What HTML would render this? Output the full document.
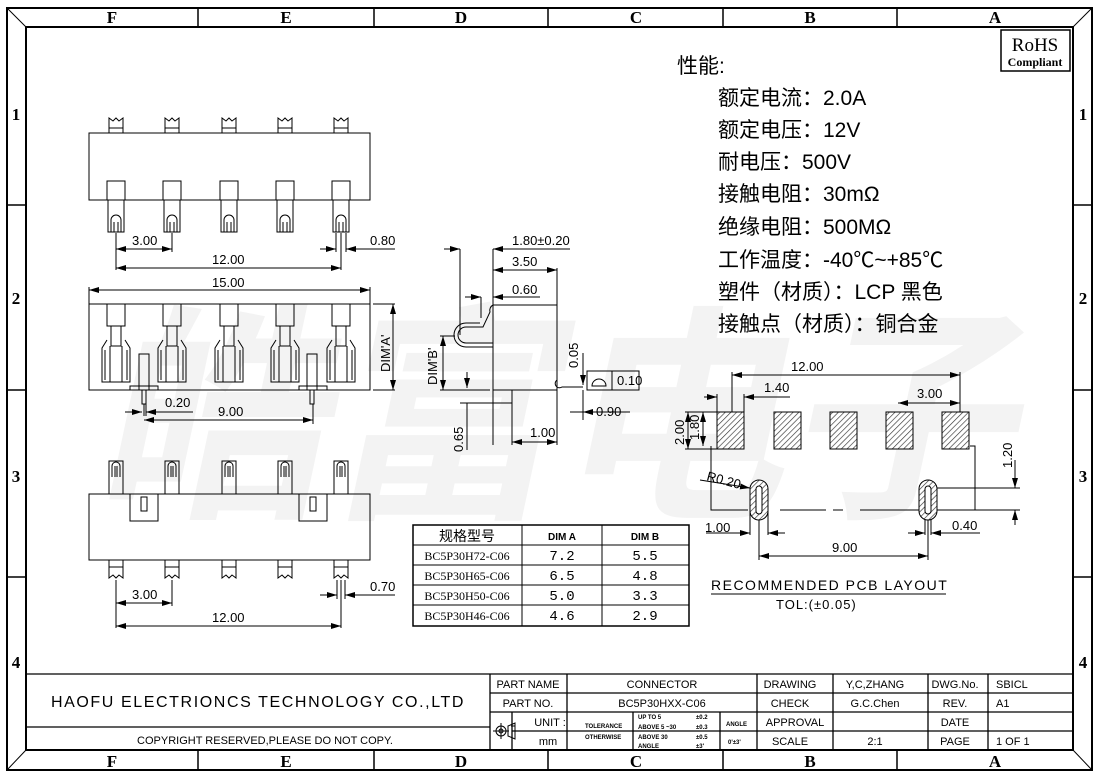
<!DOCTYPE html>
<html><head><meta charset="utf-8"><style>
html,body{margin:0;padding:0;background:#fff}
svg{display:block;font-family:"Liberation Sans","Noto Sans CJK SC",sans-serif}
text{fill:#000}
.d{font-size:13px}
.b{font-family:"Liberation Serif",serif;font-weight:bold;font-size:17px}
.t{font-size:11px}
</style></head><body>
<svg width="1098" height="779" viewBox="0 0 1098 779" xmlns="http://www.w3.org/2000/svg">
<defs>
<marker id="a" viewBox="0 0 10 6" refX="10" refY="3" markerWidth="10" markerHeight="6" orient="auto-start-reverse" markerUnits="userSpaceOnUse"><path d="M0,0L10,3L0,6z" fill="#000"/></marker>
<pattern id="h" width="4" height="4" patternUnits="userSpaceOnUse" patternTransform="rotate(45)"><rect width="4" height="4" fill="#fff"/><line x1="0" y1="0" x2="0" y2="4" stroke="#333" stroke-width="1.3"/></pattern>
</defs>
<!-- watermark -->
<g transform="skewX(-12)">
<text x="200" y="500" style="fill:#f3f3f3;font-family:'Noto Sans CJK SC',sans-serif;font-size:230px;font-weight:bold">皓富电子</text>
</g>
<!-- frame -->
<g fill="none" stroke="#000">
<rect x="7" y="8" width="1085" height="762" stroke-width="2"/>
<rect x="26" y="27" width="1047" height="723" stroke-width="2"/>
<line x1="7" y1="8" x2="26" y2="27"/><line x1="1092" y1="8" x2="1073" y2="27"/>
<line x1="7" y1="770" x2="26" y2="750"/><line x1="1092" y1="770" x2="1073" y2="750"/>
<g stroke-width="1.5">
<line x1="198" y1="8" x2="198" y2="27"/><line x1="374" y1="8" x2="374" y2="27"/><line x1="548" y1="8" x2="548" y2="27"/><line x1="723" y1="8" x2="723" y2="27"/><line x1="897" y1="8" x2="897" y2="27"/>
<line x1="198" y1="750" x2="198" y2="770"/><line x1="374" y1="750" x2="374" y2="770"/><line x1="548" y1="750" x2="548" y2="770"/><line x1="723" y1="750" x2="723" y2="770"/><line x1="897" y1="750" x2="897" y2="770"/>
<line x1="7" y1="205" x2="26" y2="205"/><line x1="7" y1="390" x2="26" y2="390"/><line x1="7" y1="577" x2="26" y2="577"/>
<line x1="1073" y1="205" x2="1092" y2="205"/><line x1="1073" y1="390" x2="1092" y2="390"/><line x1="1073" y1="577" x2="1092" y2="577"/>
</g></g>
<g class="b" text-anchor="middle">
<text x="112" y="23">F</text><text x="286" y="23">E</text><text x="461" y="23">D</text><text x="636" y="23">C</text><text x="810" y="23">B</text><text x="995" y="23">A</text>
<text x="112" y="767">F</text><text x="286" y="767">E</text><text x="461" y="767">D</text><text x="636" y="767">C</text><text x="810" y="767">B</text><text x="995" y="767">A</text>
<text x="16" y="120">1</text><text x="16" y="304">2</text><text x="16" y="482">3</text><text x="16" y="668">4</text>
<text x="1083" y="120">1</text><text x="1083" y="304">2</text><text x="1083" y="482">3</text><text x="1083" y="668">4</text>
</g>
<!-- RoHS -->
<rect x="1001" y="30" width="69" height="41" fill="#fff" stroke="#000" stroke-width="1.5"/>
<text x="1035" y="51" text-anchor="middle" style="font-family:'Liberation Serif',serif;font-size:19px">RoHS</text>
<text x="1035" y="66" text-anchor="middle" style="font-family:'Liberation Serif',serif;font-size:12px;font-weight:bold">Compliant</text>
<!-- spec text -->
<g style="font-size:21px">
<text x="677" y="73">性能:</text>
<text x="718" y="105">额定电流：2.0A</text>
<text x="718" y="137">额定电压：12V</text>
<text x="718" y="169">耐电压：500V</text>
<text x="718" y="201">接触电阻：30mΩ</text>
<text x="718" y="234">绝缘电阻：500MΩ</text>
<text x="718" y="267">工作温度：-40℃~+85℃</text>
<text x="718" y="299">塑件（材质）：LCP 黑色</text>
<text x="718" y="331">接触点（材质）：铜合金</text>
</g>
<g fill="none" stroke="#000" stroke-width="1">
<!-- TOP VIEW -->
<rect x="89" y="133" width="281" height="67"/>
<g id="tp">
<path d="M109,133 V118 L113,121 L116,118 L119,121 L123,118 V133 M109,128 H123"/>
<rect x="107" y="181" width="18" height="19"/>
<path d="M108,200 V232 H124 V200 M111,232 V220 a5,5 0 0 1 10,0 V232 M114,232 V222 M118,232 V222"/>
</g>
<use href="#tp" x="56"/><use href="#tp" x="113"/><use href="#tp" x="169"/><use href="#tp" x="225"/>
<line x1="116" y1="233" x2="116" y2="270"/><line x1="172" y1="233" x2="172" y2="252"/><line x1="341" y1="233" x2="341" y2="270"/><line x1="336" y1="233" x2="336" y2="252"/><line x1="346" y1="233" x2="346" y2="252"/>
<line x1="116" y1="249" x2="172" y2="249" marker-start="url(#a)" marker-end="url(#a)"/>
<line x1="116" y1="268" x2="341" y2="268" marker-start="url(#a)" marker-end="url(#a)"/>
<line x1="320" y1="249" x2="336" y2="249" marker-end="url(#a)"/><line x1="395" y1="249" x2="346" y2="249" marker-end="url(#a)"/>
<!-- FRONT VIEW -->
<line x1="89" y1="290" x2="370" y2="290" marker-start="url(#a)" marker-end="url(#a)"/>
<line x1="89" y1="287" x2="89" y2="304"/><line x1="370" y1="287" x2="370" y2="304"/>
<rect x="89" y="304" width="281" height="86"/>
<g id="fp">
<rect x="107" y="304" width="18" height="22"/>
<rect x="111" y="326" width="10" height="20"/>
<path d="M107,340 L102,348 V382 H130 V348 L125,340 M105,350 V380 M127,350 V380 M110,346 V382 M122,346 V382"/>
</g>
<use href="#fp" x="56"/><use href="#fp" x="113"/><use href="#fp" x="169"/><use href="#fp" x="225"/>
<rect x="139" y="354" width="10" height="36"/><rect x="142" y="390" width="4" height="14"/>
<rect x="307" y="354" width="10" height="36"/><rect x="310" y="390" width="4" height="14"/>
<path d="M130,390 V386 H158 V390 M299,390 V386 H327 V390"/>
<line x1="144" y1="404" x2="144" y2="416"/><line x1="146" y1="404" x2="146" y2="416"/><line x1="313" y1="404" x2="313" y2="424"/>
<line x1="125" y1="412" x2="142" y2="412" marker-end="url(#a)"/><line x1="193" y1="412" x2="146" y2="412" marker-end="url(#a)"/>
<line x1="144" y1="420" x2="313" y2="420" marker-start="url(#a)" marker-end="url(#a)"/>
<line x1="373" y1="304" x2="395" y2="304"/><line x1="373" y1="390" x2="395" y2="390"/>
<line x1="393" y1="304" x2="393" y2="390" marker-start="url(#a)" marker-end="url(#a)"/>
<!-- BOTTOM VIEW -->
<rect x="89" y="494" width="281" height="66"/>
<g id="bp">
<rect x="109" y="461" width="14" height="33"/>
<path d="M112,477 V466 a4,4 0 0 1 8,0 V477 M115,466 V477 M117,466 V477"/>
<path d="M109,560 V578 L113,575 L116,578 L119,575 L123,578 V560 M109,567 H123"/>
</g>
<use href="#bp" x="56"/><use href="#bp" x="113"/><use href="#bp" x="169"/><use href="#bp" x="225"/>
<rect x="130" y="494" width="28" height="27"/><rect x="141" y="497" width="6" height="14"/>
<rect x="299" y="494" width="28" height="27"/><rect x="310" y="497" width="6" height="14"/>
<line x1="116" y1="580" x2="116" y2="628"/><line x1="172" y1="580" x2="172" y2="606"/><line x1="341" y1="580" x2="341" y2="628"/><line x1="337" y1="580" x2="337" y2="599"/><line x1="345" y1="580" x2="345" y2="599"/>
<line x1="116" y1="603" x2="172" y2="603" marker-start="url(#a)" marker-end="url(#a)"/>
<line x1="116" y1="626" x2="341" y2="626" marker-start="url(#a)" marker-end="url(#a)"/>
<line x1="320" y1="595" x2="337" y2="595" marker-end="url(#a)"/><line x1="395" y1="595" x2="345" y2="595" marker-end="url(#a)"/>
<!-- SIDE VIEW -->
<rect x="493" y="305" width="64" height="85"/>
<rect x="493" y="390" width="19" height="13"/>
<path d="M493,343 H466 a8,8 0 0 1 0,-16 H483 L490,312 a6,6 0 0 1 3,-7"/>
<path d="M493,347 H466 a12,12 0 0 1 0,-24 H480" />
<path d="M557,380 a4,4 0 0 0 5,7 H583"/>
<line x1="460" y1="249" x2="460" y2="335"/><line x1="493" y1="249" x2="493" y2="305"/><line x1="557" y1="268" x2="557" y2="305"/>
<line x1="444" y1="249" x2="460" y2="249" marker-end="url(#a)"/><line x1="570" y1="249" x2="493" y2="249" marker-end="url(#a)"/>
<line x1="493" y1="270" x2="557" y2="270" marker-start="url(#a)" marker-end="url(#a)"/>
<line x1="465" y1="297" x2="481" y2="297" marker-end="url(#a)"/><line x1="540" y1="297" x2="493" y2="297" marker-end="url(#a)"/>
<line x1="481" y1="297" x2="481" y2="318"/>
<line x1="440" y1="336" x2="455" y2="336"/><line x1="440" y1="390" x2="490" y2="390"/>
<line x1="443" y1="336" x2="443" y2="390" marker-start="url(#a)" marker-end="url(#a)"/>
<line x1="467" y1="372" x2="467" y2="388" marker-end="url(#a)"/>
<line x1="467" y1="403" x2="467" y2="450"/><line x1="460" y1="403" x2="493" y2="403"/>
<line x1="493" y1="403" x2="493" y2="445"/><line x1="512" y1="403" x2="512" y2="445"/><line x1="557" y1="390" x2="557" y2="445"/>
<line x1="540" y1="442" x2="557" y2="442" marker-end="url(#a)"/><line x1="512" y1="442" x2="557" y2="442" marker-start="url(#a)"/>
<line x1="583" y1="390" x2="583" y2="420"/>
<line x1="583" y1="412" x2="630" y2="412" marker-start="url(#a)"/><line x1="570" y1="412" x2="583" y2="412"/>
<line x1="583" y1="353" x2="583" y2="385" marker-end="url(#a)"/><line x1="583" y1="412" x2="583" y2="393"/>
<rect x="587" y="371" width="25" height="19"/><rect x="612" y="371" width="27" height="19"/>
<path d="M592,386 a7,7 0 0 1 14,0 z"/>
<!-- spec table -->
<rect x="413" y="525" width="276" height="101" stroke-width="1.5"/>
<line x1="413" y1="545" x2="689" y2="545"/><line x1="413" y1="565" x2="689" y2="565"/><line x1="413" y1="585" x2="689" y2="585"/><line x1="413" y1="605" x2="689" y2="605"/>
<line x1="522" y1="525" x2="522" y2="626"/><line x1="602" y1="525" x2="602" y2="626"/>
<!-- PCB -->
<line x1="732" y1="375" x2="960" y2="375" marker-start="url(#a)" marker-end="url(#a)"/>
<line x1="732" y1="372" x2="732" y2="412"/><line x1="960" y1="372" x2="960" y2="412"/>
<line x1="704" y1="397" x2="717" y2="397" marker-end="url(#a)"/><line x1="790" y1="397" x2="744" y2="397" marker-end="url(#a)"/>
<line x1="717" y1="394" x2="717" y2="412"/><line x1="744" y1="394" x2="744" y2="412"/>
<line x1="898" y1="403" x2="960" y2="403" marker-start="url(#a)" marker-end="url(#a)"/>
<line x1="685" y1="412" x2="717" y2="412"/><line x1="685" y1="449" x2="717" y2="449"/>
<line x1="688" y1="412" x2="688" y2="449" marker-start="url(#a)" marker-end="url(#a)"/>
<line x1="703" y1="412" x2="703" y2="446" marker-start="url(#a)" marker-end="url(#a)"/>
<path d="M711,446 V510 H748 M780,510 H826 M833,510 H843 M860,510 H920 M935,510 H975 V446 H970"/>
<rect x="717" y="412" width="27" height="37" fill="url(#h)"/>
<rect x="774" y="412" width="27" height="37" fill="url(#h)"/>
<rect x="830" y="412" width="27" height="37" fill="url(#h)"/>
<rect x="886" y="412" width="27" height="37" fill="url(#h)"/>
<rect x="942" y="412" width="27" height="37" fill="url(#h)"/>
<rect x="750" y="480" width="18" height="40" rx="9" fill="url(#h)"/><rect x="756" y="486" width="6" height="28" rx="3" fill="#fff"/>
<rect x="919" y="480" width="18" height="40" rx="9" fill="url(#h)"/><rect x="925" y="486" width="6" height="28" rx="3" fill="#fff"/>
<line x1="700" y1="480" x2="750" y2="488" marker-end="url(#a)"/>
<line x1="937" y1="488" x2="1020" y2="488"/>
<line x1="1015" y1="460" x2="1015" y2="488" marker-end="url(#a)"/><line x1="1015" y1="525" x2="1015" y2="510" marker-end="url(#a)"/><line x1="975" y1="510" x2="1020" y2="510"/>
<line x1="750" y1="500" x2="750" y2="535"/><line x1="768" y1="500" x2="768" y2="535"/>
<line x1="706" y1="533" x2="750" y2="533" marker-end="url(#a)"/><line x1="785" y1="533" x2="768" y2="533" marker-end="url(#a)"/>
<line x1="759" y1="520" x2="759" y2="560"/><line x1="928" y1="520" x2="928" y2="560"/>
<line x1="925" y1="520" x2="925" y2="535"/><line x1="931" y1="520" x2="931" y2="535"/>
<line x1="908" y1="533" x2="925" y2="533" marker-end="url(#a)"/><line x1="980" y1="533" x2="931" y2="533" marker-end="url(#a)"/>
<line x1="759" y1="556" x2="928" y2="556" marker-start="url(#a)" marker-end="url(#a)"/>
<line x1="711" y1="594" x2="946" y2="594"/>
<!-- title block -->
<g stroke-width="1.3">
<line x1="26" y1="674" x2="1073" y2="674"/>
<line x1="26" y1="727" x2="490" y2="727"/>
<line x1="490" y1="674" x2="490" y2="750"/>
<line x1="490" y1="693" x2="1073" y2="693"/><line x1="490" y1="712" x2="1073" y2="712"/><line x1="567" y1="731" x2="1073" y2="731"/>
<line x1="567" y1="674" x2="567" y2="750"/><line x1="757" y1="674" x2="757" y2="750"/><line x1="833" y1="674" x2="833" y2="750"/><line x1="928" y1="674" x2="928" y2="750"/><line x1="988" y1="674" x2="988" y2="750"/>
<line x1="512" y1="712" x2="512" y2="750"/><line x1="512" y1="731" x2="567" y2="731"/><line x1="633" y1="712" x2="633" y2="750"/><line x1="720" y1="712" x2="720" y2="750"/>
</g>
<circle cx="501" cy="731" r="5"/><circle cx="501" cy="731" r="2"/><line x1="493" y1="731" x2="509" y2="731"/><line x1="501" y1="723" x2="501" y2="739"/>
<path d="M508,726 L515,723 V739 L508,736 z M515,726 H511"/>
</g>
<!-- dimension texts -->
<g class="d">
<text x="132" y="245">3.00</text><text x="212" y="264">12.00</text><text x="370" y="245">0.80</text>
<text x="212" y="287">15.00</text>
<text x="165" y="407">0.20</text><text x="218" y="416">9.00</text>
<text x="132" y="599">3.00</text><text x="212" y="622">12.00</text><text x="370" y="591">0.70</text>
<text x="512" y="245">1.80±0.20</text><text x="512" y="266">3.50</text><text x="512" y="294">0.60</text>
<text x="530" y="437">1.00</text><text x="596" y="416">0.90</text><text x="617" y="385">0.10</text>
<text x="791" y="371">12.00</text><text x="764" y="392">1.40</text><text x="917" y="398">3.00</text>
<text x="705" y="532">1.00</text><text x="952" y="530">0.40</text><text x="832" y="552">9.00</text>
<text x="706" y="480" transform="rotate(15 706 480)">R0.20</text>
<text transform="translate(390 372) rotate(-90)">DIM'A'</text>
<text transform="translate(437 385) rotate(-90)">DIM'B'</text>
<text transform="translate(463 452) rotate(-90)">0.65</text>
<text transform="translate(578 368) rotate(-90)">0.05</text>
<text transform="translate(684 445) rotate(-90)">2.00</text>
<text transform="translate(699 440) rotate(-90)">1.80</text>
<text transform="translate(1012 468) rotate(-90)">1.20</text>
</g>
<text x="711" y="590" style="font-size:14px;letter-spacing:1.5px">RECOMMENDED PCB LAYOUT</text>
<text x="776" y="609" style="font-size:13px;letter-spacing:1px">TOL:(±0.05)</text>
<!-- table texts -->
<text x="467" y="541" text-anchor="middle" style="font-size:14px">规格型号</text>
<text x="562" y="540" text-anchor="middle" style="font-size:10px;font-weight:bold">DIM  A</text>
<text x="645" y="540" text-anchor="middle" style="font-size:10px;font-weight:bold">DIM  B</text>
<g style="font-family:'Liberation Serif',serif;font-size:12px" text-anchor="middle">
<text x="467" y="560">BC5P30H72-C06</text><text x="467" y="580">BC5P30H65-C06</text><text x="467" y="600">BC5P30H50-C06</text><text x="467" y="620">BC5P30H46-C06</text>
</g>
<g style="font-family:'Liberation Mono',monospace;font-size:14px" text-anchor="middle">
<text x="562" y="560">7.2</text><text x="562" y="580">6.5</text><text x="562" y="600">5.0</text><text x="562" y="620">4.6</text>
<text x="645" y="560">5.5</text><text x="645" y="580">4.8</text><text x="645" y="600">3.3</text><text x="645" y="620">2.9</text>
</g>
<!-- title texts -->
<text x="258" y="707" text-anchor="middle" style="font-size:16px;letter-spacing:1.6px">HAOFU ELECTRIONCS TECHNOLOGY CO.,LTD</text>
<text x="265" y="744" text-anchor="middle" class="t">COPYRIGHT RESERVED,PLEASE DO NOT COPY.</text>
<g class="t" text-anchor="middle">
<text x="528" y="688">PART NAME</text><text x="662" y="688">CONNECTOR</text><text x="790" y="688">DRAWING</text><text x="875" y="688">Y,C,ZHANG</text><text x="955" y="688">DWG.No.</text>
<text x="528" y="707">PART NO.</text><text x="662" y="707">BC5P30HXX-C06</text><text x="790" y="707">CHECK</text><text x="875" y="707">G.C.Chen</text><text x="955" y="707">REV.</text>
<text x="550" y="726">UNIT :</text><text x="548" y="745">mm</text><text x="795" y="726">APPROVAL</text><text x="955" y="726">DATE</text>
<text x="790" y="745">SCALE</text><text x="875" y="745">2:1</text><text x="955" y="745">PAGE</text>
</g>
<g class="t"><text x="996" y="688">SBICL</text><text x="996" y="707">A1</text><text x="996" y="745">1 OF 1</text></g>
<g style="font-size:6px;font-weight:bold">
<text x="585" y="728">TOLERANCE</text><text x="585" y="739">OTHERWISE</text>
<text x="638" y="719">UP TO 5</text><text x="696" y="719">±0.2</text>
<text x="638" y="729">ABOVE 5 ~30</text><text x="696" y="729">±0.3</text>
<text x="638" y="739">ABOVE 30</text><text x="696" y="739">±0.5</text>
<text x="638" y="748">ANGLE</text><text x="696" y="748">±3'</text>
<text x="726" y="726">ANGLE</text><text x="728" y="744">0'±3'</text>
</g>
</svg>
</body></html>
